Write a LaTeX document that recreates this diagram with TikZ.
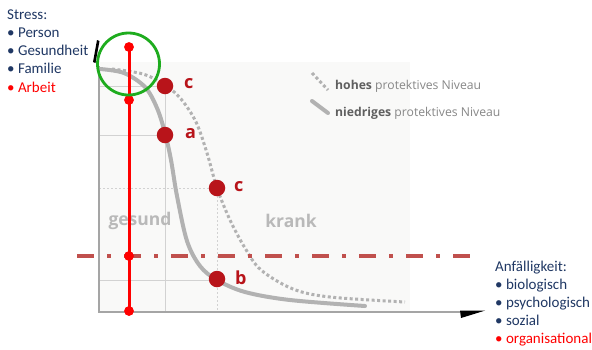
\documentclass[tikz,border=0pt]{standalone}
\usepackage{fontspec}
\setmainfont{Carlito}
\newfontfamily\chartfont{Open Sans}
\definecolor{navy}{RGB}{32,56,100}
\definecolor{brightred}{RGB}{255,0,0}
\definecolor{dotred}{RGB}{184,20,26}
\definecolor{dashred}{RGB}{192,80,77}
\definecolor{curvegray}{RGB}{178,178,178}
\definecolor{gridgray}{RGB}{210,210,210}
\definecolor{axisgray}{RGB}{165,165,165}
\definecolor{bggray}{RGB}{249,249,248}
\definecolor{zonegray}{RGB}{185,185,185}
\definecolor{leggray}{RGB}{135,135,135}
\definecolor{legdark}{RGB}{95,95,95}
\definecolor{ringgreen}{RGB}{30,172,30}
\tikzset{
  listtxt/.style={anchor=base west, inner sep=0, font=\fontsize{15}{18}\selectfont, text=navy},
  listred/.style={listtxt, text=brightred},
  gridsolid/.style={draw=gridgray, line width=1},
  griddot/.style={draw=gridgray, line width=1, dash pattern=on 2pt off 2pt},
  lowcurve/.style={draw=curvegray, line width=4, line cap=round},
  highcurve/.style={draw=curvegray, line width=3, dash pattern=on 3pt off 2.5pt},
  bigdot/.style={circle, fill=dotred, minimum size=16.5, inner sep=0},
  smalldot/.style={circle, fill=brightred, minimum size=9.5, inner sep=0},
  dotlbl/.style={anchor=west, inner sep=0, text=dotred, font=\chartfont\bfseries\fontsize{18}{18}\selectfont},
  zonelbl/.style={inner sep=0, text=zonegray, font=\chartfont\bfseries\fontsize{17.5}{18}\selectfont},
  legtxt/.style={anchor=west, inner sep=0, text=leggray, font=\chartfont\fontsize{12.2}{13}\selectfont},
}
\begin{document}
\begin{tikzpicture}[x=1pt,y=-1pt]
\useasboundingbox (0,0) rectangle (592,349);
\fill[white] (0,0) rectangle (592,349);
% plot background
\fill[bggray] (99,62) rectangle (410,312);
% grid lines
\coordinate (g1) at (99,86);
\coordinate (g2) at (165,86);
\coordinate (g3) at (99,135);
\coordinate (g4) at (165,135);
\coordinate (g5) at (165,312);
\coordinate (g6) at (99,188);
\coordinate (g7) at (217,188);
\coordinate (g8) at (217,312);
\coordinate (g9) at (99,280);
\coordinate (g10) at (217,280);
\draw[gridsolid] (g1) -- (g2);
\draw[gridsolid] (g3) -- (g4);
\draw[gridsolid] (g2) -- (g5);
\draw[griddot] (g6) -- (g7);
\draw[griddot] (g7) -- (g8);
\draw[gridsolid] (g9) -- (g10);
% axes
\coordinate (ytop) at (99,66);
\coordinate (origin) at (99,312);
\coordinate (xend) at (460,312);
\draw[axisgray, line width=1.8] (ytop) -- (origin) -- (xend);
\fill[black] (460,310.6) -- (485,310.6) -- (461,318) -- cycle;
\fill[black] (93,62) -- (97,40) -- (99.5,41) -- (95.5,63) -- cycle;
% curves
\draw[lowcurve] plot[smooth, tension=0.55] coordinates {(100,69) (124,73) (145,87) (157,108) (165,133) (171,160) (177,196) (187,241) (200,266) (217,280) (245,292) (290,300) (365,306)};
\draw[highcurve] plot[smooth, tension=0.55] coordinates {(112,69) (143,74) (165,85) (181,99) (196,122) (207,153) (217,188) (230,220) (245,248) (261,270) (293,289) (330,297) (405,302)};
% zone labels
\node[zonelbl] (gesund) at (140,221) {gesund};
\node[zonelbl] (krank) at (291,221) {krank};
% legend
\coordinate (lh1) at (312,73);
\coordinate (lh2) at (328,90);
\coordinate (ll1) at (312,101);
\coordinate (ll2) at (328,113);
\draw[highcurve] (lh1) -- (lh2);
\draw[lowcurve] (ll1) -- (ll2);
\node[legtxt] (leghigh) at (335,86) {\textcolor{legdark}{\bfseries hohes} protektives Niveau};
\node[legtxt] (leglow) at (335,113) {\textcolor{legdark}{\bfseries niedriges} protektives Niveau};
% dash-dot threshold
\coordinate (th1) at (77,256);
\coordinate (th2) at (470,256);
\draw[dashred, line width=4, dash pattern=on 17pt off 13pt on 4pt off 13pt] (th1) -- (th2);
% red vertical line with dots
\node[smalldot] (r1) at (129,47) {};
\node[smalldot] (r2) at (129,100) {};
\node[smalldot] (r3) at (129,256) {};
\node[smalldot] (r4) at (129,311) {};
\draw[brightred, line width=3] (r1.center) -- (r4.center);
\node[smalldot] at (r1) {};
\node[smalldot] at (r2) {};
\node[smalldot] at (r3) {};
\node[smalldot] at (r4) {};
% big dots
\node[bigdot] (c1) at (165,86) {};
\node[bigdot] (a) at (165,135) {};
\node[bigdot] (c2) at (217,188) {};
\node[bigdot] (b) at (217,279) {};
\node[dotlbl] (lc1) at (184,84) {c};
\node[dotlbl] (la) at (185,134) {a};
\node[dotlbl] (lc2) at (234,187) {c};
\node[dotlbl] (lb) at (235,278) {b};
% green ring
\node[circle, draw=ringgreen, line width=2.8, minimum size=62, inner sep=0] (ring) at (128.5,64) {};
% left list
\node[listtxt] (s0) at (7,19) {Stress:};
\node[listtxt] (s1) at (7,37) {• Person};
\node[listtxt] (s2) at (7,55) {• Gesundheit};
\node[listtxt] (s3) at (7,73) {• Familie};
\node[listred] (s4) at (7,92) {• Arbeit};
% right list
\node[listtxt] (v0) at (495,271) {Anfälligkeit:};
\node[listtxt] (v1) at (495,289) {• biologisch};
\node[listtxt] (v2) at (495,307) {• psychologisch};
\node[listtxt] (v3) at (495,325) {• sozial};
\node[listred] (v4) at (495,343) {• organisational};
\end{tikzpicture}
\end{document}
